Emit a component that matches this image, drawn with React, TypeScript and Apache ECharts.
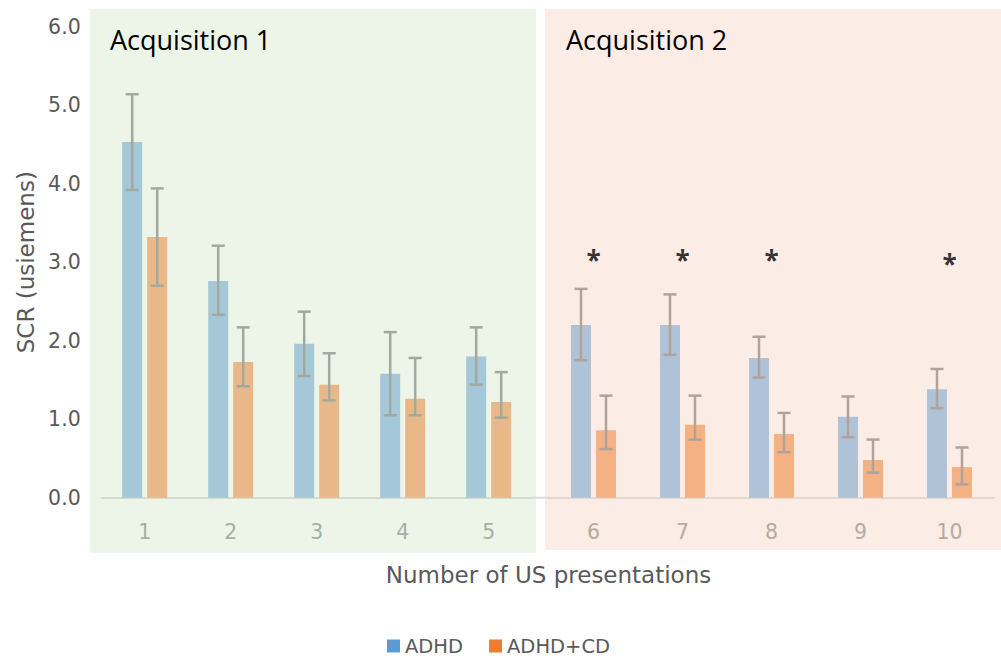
import React, { useEffect, useRef } from "react";
import * as echarts from "echarts";

// Trial numbers for the two acquisition phases
const acq1Trials = ["1", "2", "3", "4", "5"];
const acq2Trials = ["6", "7", "8", "9", "10"];

// Mean SCR per group
const adhdAcq1 = [4.53, 2.76, 1.96, 1.58, 1.8];
const adhdAcq2 = [2.2, 2.2, 1.78, 1.03, 1.38];
const adhdCdAcq1 = [3.32, 1.73, 1.44, 1.26, 1.22];
const adhdCdAcq2 = [0.86, 0.93, 0.81, 0.48, 0.39];

// Error-bar ends (low / high)
const adhdLowAcq1 = [3.92, 2.33, 1.55, 1.05, 1.44];
const adhdHighAcq1 = [5.14, 3.21, 2.37, 2.11, 2.17];
const adhdLowAcq2 = [1.75, 1.82, 1.53, 0.77, 1.14];
const adhdHighAcq2 = [2.66, 2.59, 2.05, 1.29, 1.64];
const adhdCdLowAcq1 = [2.7, 1.42, 1.24, 1.05, 1.02];
const adhdCdHighAcq1 = [3.94, 2.17, 1.84, 1.78, 1.6];
const adhdCdLowAcq2 = [0.62, 0.74, 0.58, 0.32, 0.17];
const adhdCdHighAcq2 = [1.3, 1.3, 1.08, 0.74, 0.64];

// Significance markers for the second acquisition (null = not significant)
const starLevelAcq2: (number | null)[] = [3.05, 3.05, 3.05, null, 3.0];

// Y axis scale
const yMin = 0;
const yMax = 6;
const yStep = 1;

const AXIS_FONT = "'DejaVu Sans', 'Open Sans', sans-serif";
const TITLE_FONT = "'Open Sans', 'Noto Sans', sans-serif";

function errorSeries(
  name: string,
  low: number[],
  high: number[],
  axisIndex: number,
  offset: number,
  color: string
) {
  return {
    type: "custom",
    name,
    xAxisIndex: axisIndex,
    yAxisIndex: axisIndex,
    z: 5,
    silent: true,
    data: low.map((lo, i) => [i, lo, high[i]]),
    encode: { x: 0, y: [1, 2] },
    renderItem: (params: any, api: any) => {
      const i = api.value(0);
      const pLo = api.coord([i, api.value(1)]);
      const pHi = api.coord([i, api.value(2)]);
      const x = pLo[0] + offset;
      const cap = 6.5;
      const style = { stroke: color, lineWidth: 2.5, fill: "none" };
      return {
        type: "group",
        children: [
          { type: "line", shape: { x1: x, y1: pLo[1], x2: x, y2: pHi[1] }, style },
          { type: "line", shape: { x1: x - cap, y1: pHi[1], x2: x + cap, y2: pHi[1] }, style },
          { type: "line", shape: { x1: x - cap, y1: pLo[1], x2: x + cap, y2: pLo[1] }, style },
        ],
      };
    },
  };
}

export default function App() {
  const ref = useRef<HTMLDivElement>(null);

  useEffect(() => {
    document.body.style.margin = "0";
    if (!ref.current) return;
    const chart = echarts.init(ref.current, undefined, { renderer: "svg" });

    const gridTop = 26.7;
    const gridHeight = 471;

    const option: any = {
      animation: false,
      backgroundColor: "#ffffff",
      textStyle: { fontFamily: AXIS_FONT },
      grid: [
        { left: 101.7, top: gridTop, width: 430, height: gridHeight },
        { left: 549, top: gridTop, width: 445, height: gridHeight },
      ],
      xAxis: [
        {
          type: "category",
          gridIndex: 0,
          data: acq1Trials,
          axisTick: { show: false },
          axisLine: { lineStyle: { color: "#D5DAD1", width: 2 } },
          axisLabel: { color: "#A7AFA5", fontSize: 20.5, margin: 24, fontFamily: AXIS_FONT },
        },
        {
          type: "category",
          gridIndex: 1,
          data: acq2Trials,
          axisTick: { show: false },
          axisLine: { lineStyle: { color: "#E4D9D2", width: 2 } },
          axisLabel: { color: "#B6AAA2", fontSize: 20.5, margin: 24, fontFamily: AXIS_FONT },
        },
      ],
      yAxis: [
        {
          type: "value",
          gridIndex: 0,
          min: yMin,
          max: yMax,
          interval: yStep,
          axisLine: { show: false },
          axisTick: { show: false },
          splitLine: { show: false },
          axisLabel: {
            color: "#595959",
            fontSize: 20.5,
            margin: 21,
            fontFamily: AXIS_FONT,
            formatter: (v: number) => v.toFixed(1),
          },
          name: "SCR (usiemens)",
          nameLocation: "middle",
          nameGap: 64,
          nameTextStyle: { color: "#595959", fontSize: 23, fontFamily: AXIS_FONT },
        },
        {
          type: "value",
          gridIndex: 1,
          min: yMin,
          max: yMax,
          interval: yStep,
          show: false,
          splitLine: { show: false },
        },
      ],
      legend: {
        data: [
          { name: "ADHD", itemStyle: { color: "#5B9BD5" } },
          { name: "ADHD+CD", itemStyle: { color: "#ED7D31" } },
        ],
        icon: "rect",
        itemWidth: 13,
        itemHeight: 13,
        itemGap: 26,
        left: 382,
        top: 631,
        selectedMode: false,
        textStyle: { color: "#595959", fontSize: 19.5, lineHeight: 17, fontFamily: AXIS_FONT },
      },
      graphic: [
        {
          type: "rect",
          z: -10,
          silent: true,
          shape: { x: 90, y: 9, width: 446, height: 544 },
          style: { fill: "#EDF4E8" },
        },
        {
          type: "rect",
          z: -10,
          silent: true,
          shape: { x: 545, y: 9, width: 456, height: 541 },
          style: { fill: "#FBEDE5" },
        },
        {
          type: "line",
          z: 10,
          silent: true,
          shape: { x1: 531, y1: 497.7, x2: 549, y2: 497.7 },
          style: { stroke: "#D9D9D9", lineWidth: 2 },
        },
        {
          type: "text",
          z: 100,
          x: 110,
          y: 39,
          style: {
            text: "Acquisition 1",
            fill: "#000000",
            font: `27px ${TITLE_FONT}`,
            textVerticalAlign: "middle",
          },
        },
        {
          type: "text",
          z: 100,
          x: 566,
          y: 39,
          style: {
            text: "Acquisition 2",
            fill: "#000000",
            font: `27px ${TITLE_FONT}`,
            textVerticalAlign: "middle",
          },
        },
        {
          type: "text",
          z: 100,
          x: 548.5,
          y: 575,
          style: {
            text: "Number of US presentations",
            fill: "#595959",
            font: `23px ${AXIS_FONT}`,
            textAlign: "center",
            textVerticalAlign: "middle",
          },
        },
      ],
      series: [
        {
          type: "bar",
          name: "ADHD",
          xAxisIndex: 0,
          yAxisIndex: 0,
          data: adhdAcq1,
          barWidth: 20,
          barGap: "25%",
          itemStyle: { color: "#A4C8D8" },
        },
        {
          type: "bar",
          name: "ADHD+CD",
          xAxisIndex: 0,
          yAxisIndex: 0,
          data: adhdCdAcq1,
          barWidth: 20,
          barGap: "25%",
          itemStyle: { color: "#E8B888" },
        },
        {
          type: "bar",
          name: "ADHD",
          xAxisIndex: 1,
          yAxisIndex: 1,
          data: adhdAcq2,
          barWidth: 20,
          barGap: "25%",
          itemStyle: { color: "#AFC3D8" },
        },
        {
          type: "bar",
          name: "ADHD+CD",
          xAxisIndex: 1,
          yAxisIndex: 1,
          data: adhdCdAcq2,
          barWidth: 20,
          barGap: "25%",
          itemStyle: { color: "#F4B284" },
        },
        errorSeries("adhdErr1", adhdLowAcq1, adhdHighAcq1, 0, -12.5, "#A1AA9E"),
        errorSeries("adhdCdErr1", adhdCdLowAcq1, adhdCdHighAcq1, 0, 12.5, "#A1AA9E"),
        errorSeries("adhdErr2", adhdLowAcq2, adhdHighAcq2, 1, -12.5, "#B0A39A"),
        errorSeries("adhdCdErr2", adhdCdLowAcq2, adhdCdHighAcq2, 1, 12.5, "#B0A39A"),
        {
          type: "scatter",
          name: "sig",
          xAxisIndex: 1,
          yAxisIndex: 1,
          z: 20,
          silent: true,
          symbolSize: 1,
          itemStyle: { color: "transparent" },
          data: starLevelAcq2.map((v) => (v == null ? "-" : v)),
          label: {
            show: true,
            position: "inside",
            formatter: "*",
            color: "#000000",
            fontSize: 26,
            fontWeight: "bold",
            fontFamily: TITLE_FONT,
            offset: [0, 2],
          },
        },
      ],
    };

    chart.setOption(option);
    return () => chart.dispose();
  }, []);

  return <div ref={ref} style={{ width: 1001, height: 659 }} />;
}
